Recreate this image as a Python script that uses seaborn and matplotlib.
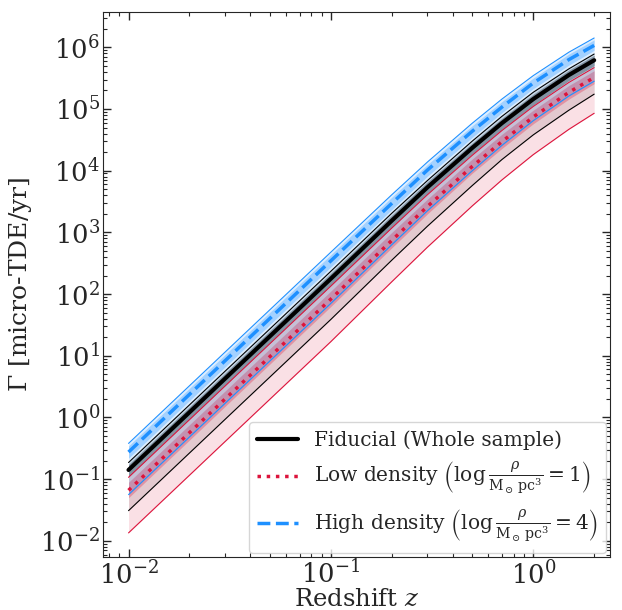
import numpy as np
import matplotlib
matplotlib.use("Agg")
import matplotlib.pyplot as plt
import pandas as pd
import seaborn as sns

# Redshift grid and log10 rates
z = [0.01, 0.03, 0.1, 0.2, 0.3, 0.5, 0.7, 1.0, 1.5, 2.0]

# Fiducial (whole sample)
fid_med = [-0.85, 0.63, 2.25, 3.19, 3.73, 4.37, 4.77, 5.16, 5.55, 5.79]
fid_hi1 = [-0.76, 0.72, 2.34, 3.28, 3.82, 4.45, 4.85, 5.24, 5.63, 5.87]
fid_lo1 = [-0.96, 0.52, 2.14, 3.08, 3.63, 4.27, 4.67, 5.06, 5.46, 5.70]
fid_hi2 = [-0.73, 0.75, 2.37, 3.31, 3.84, 4.48, 4.88, 5.27, 5.65, 5.89]
fid_lo2 = [-1.51, -0.03, 1.59, 2.55, 3.10, 3.76, 4.18, 4.58, 4.98, 5.24]

# Low density
ld_med = [-1.18, 0.30, 1.92, 2.87, 3.42, 4.07, 4.47, 4.87, 5.27, 5.51]
ld_hi1 = [-1.05, 0.43, 2.05, 3.00, 3.54, 4.19, 4.59, 4.98, 5.38, 5.62]
ld_lo1 = [-1.30, 0.18, 1.80, 2.75, 3.30, 3.96, 4.36, 4.76, 5.16, 5.41]
ld_hi2 = [-0.97, 0.51, 2.13, 3.07, 3.61, 4.25, 4.65, 5.04, 5.43, 5.67]
ld_lo2 = [-1.87, -0.39, 1.23, 2.20, 2.76, 3.43, 3.85, 4.26, 4.67, 4.93]

# High density
hd_med = [-0.56, 0.92, 2.54, 3.47, 4.01, 4.64, 5.03, 5.42, 5.80, 6.03]
hd_hi1 = [-0.46, 1.02, 2.64, 3.57, 4.10, 4.73, 5.12, 5.50, 5.89, 6.12]
hd_lo1 = [-0.66, 0.82, 2.44, 3.37, 3.91, 4.54, 4.94, 5.33, 5.71, 5.95]
hd_hi2 = [-0.42, 1.06, 2.68, 3.61, 4.14, 4.77, 5.16, 5.54, 5.92, 6.15]
hd_lo2 = [-1.25, 0.23, 1.85, 2.80, 3.35, 4.00, 4.41, 4.81, 5.21, 5.45]

labels = [
    "Fiducial (Whole sample)",
    r"Low density $\left(\log\frac{\rho}{\mathrm{M}_\odot\,\mathrm{pc}^3}=1\right)$",
    r"High density $\left(\log\frac{\rho}{\mathrm{M}_\odot\,\mathrm{pc}^3}=4\right)$",
]
yticks = [1e-2, 1e-1, 1e0, 1e1, 1e2, 1e3, 1e4, 1e5, 1e6]
xticks = [1e-2, 1e-1, 1e0]

sns.set_style("ticks")
plt.rcParams["font.family"] = ["DejaVu Serif"]
plt.rcParams["mathtext.fontset"] = "dejavuserif"

fig, ax = plt.subplots(figsize=(6.22, 6.10), dpi=100)
fig.subplots_adjust(left=0.166, right=0.981, top=0.980, bottom=0.087)

series = [
    ("fid", fid_med, fid_lo1, fid_hi1, fid_lo2, fid_hi2, "black", "-", 0.10, 0.35),
    ("ld", ld_med, ld_lo1, ld_hi1, ld_lo2, ld_hi2, "crimson", ":", 0.13, 0.30),
    ("hd", hd_med, hd_lo1, hd_hi1, hd_lo2, hd_hi2, "dodgerblue", "--", 0.15, 0.30),
]

zz = np.array(z)
# bands first
for name, med, lo1, hi1, lo2, hi2, col, ls, a_out, a_in in series:
    ax.fill_between(zz, 10**np.array(lo2), 10**np.array(hi2), color=col, alpha=a_out, lw=0)
    ax.fill_between(zz, 10**np.array(lo1), 10**np.array(hi1), color=col, alpha=a_in, lw=0)

# outer thin lines
for name, med, lo1, hi1, lo2, hi2, col, ls, a_out, a_in in series:
    df = pd.DataFrame({"z": zz, "lo": 10**np.array(lo2), "hi": 10**np.array(hi2)})
    sns.lineplot(data=df, x="z", y="lo", color=col, lw=0.8, ax=ax)
    sns.lineplot(data=df, x="z", y="hi", color=col, lw=0.8, ax=ax)

# central lines
for (name, med, lo1, hi1, lo2, hi2, col, ls, a_out, a_in), lab in zip(series, labels):
    df = pd.DataFrame({"z": zz, "rate": 10**np.array(med)})
    lw = 3 if name == "fid" else 2.5
    sns.lineplot(data=df, x="z", y="rate", color=col, lw=lw, linestyle=ls, label=lab, ax=ax)

ax.set_xscale("log")
ax.set_yscale("log")
ax.set_xticks(xticks)
ax.set_yticks(yticks)
ax.yaxis.set_minor_locator(matplotlib.ticker.LogLocator(base=10, subs=np.arange(2, 10), numticks=20))
ax.yaxis.set_minor_formatter(matplotlib.ticker.NullFormatter())
ax.xaxis.set_minor_formatter(matplotlib.ticker.NullFormatter())
ax.set_xlim(0.0075, 2.4)
ax.set_ylim(5.5e-3, 3.7e6)
ax.set_xlabel(r"Redshift $z$", fontsize=17.5, labelpad=-1)
ax.set_ylabel(r"$\Gamma$ [micro-TDE/yr]", fontsize=18)
ax.tick_params(which="both", direction="in", top=True, right=True, labelsize=18.5, pad=2.5)
ax.tick_params(which="major", length=6, width=1)
ax.tick_params(which="minor", length=3, width=0.8)

ax.legend(loc="lower right", fontsize=14.5, framealpha=0.8, borderaxespad=0.2)

fig.savefig("out.png", dpi=100)
